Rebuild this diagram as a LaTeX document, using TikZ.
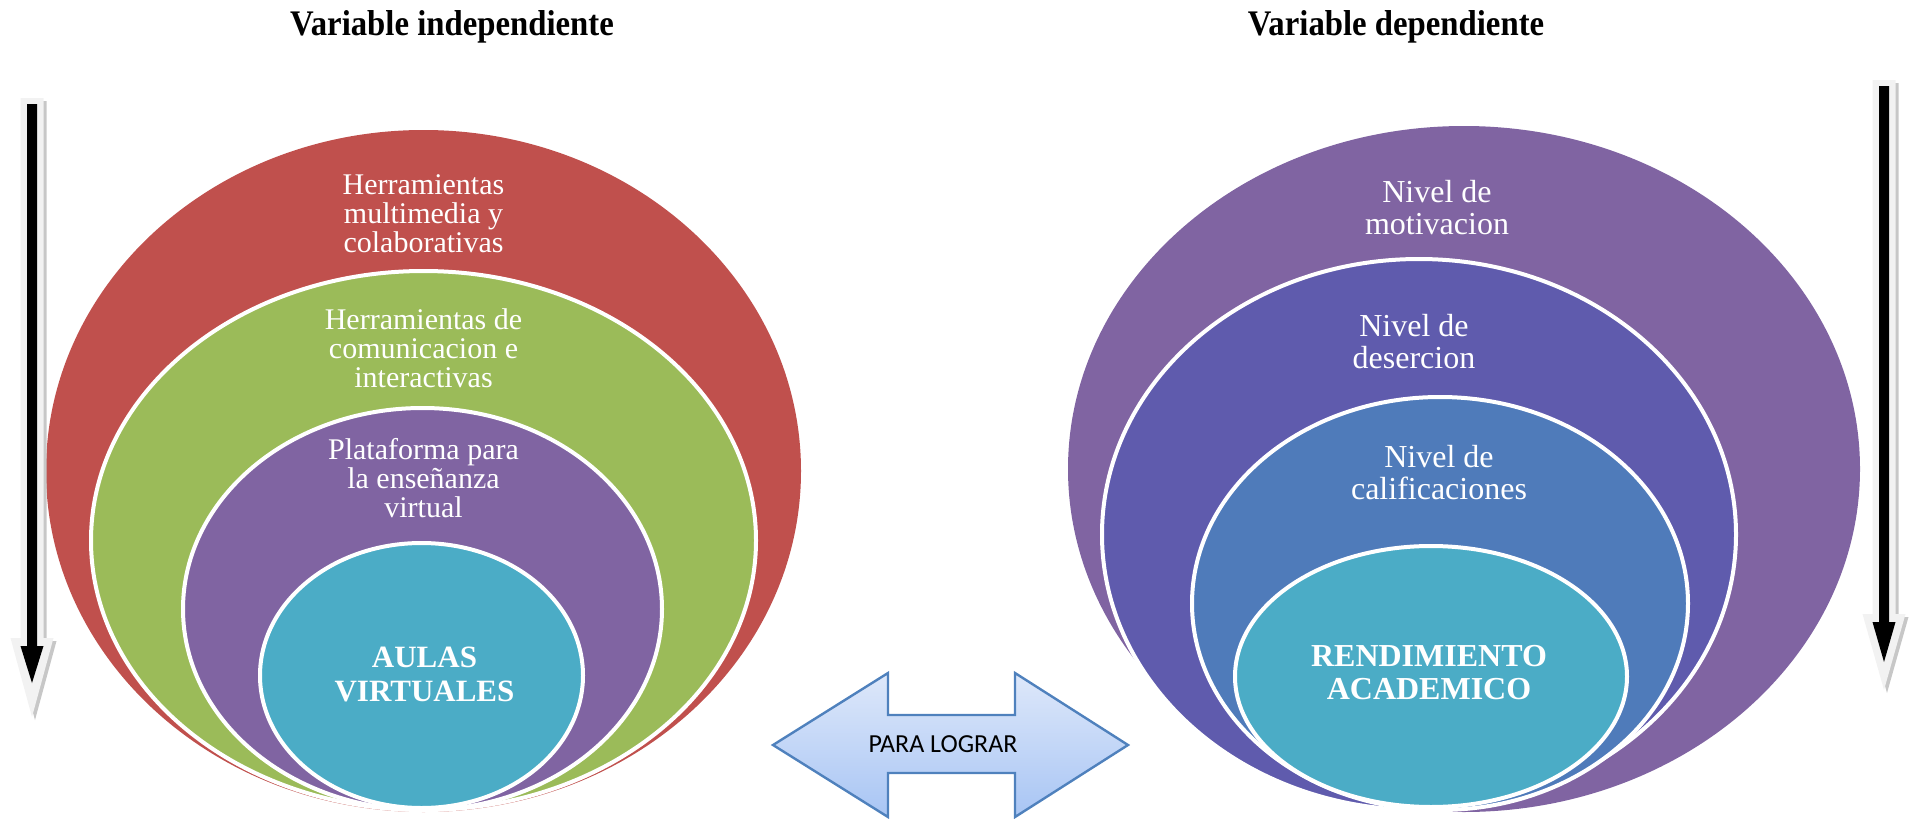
\documentclass[tikz,border=0pt]{standalone}
\usepackage{fontspec}
\setmainfont{Liberation Serif}
\newfontfamily\arrowfont{Carlito}
\usepackage{graphicx}
\usepackage{tikz}
\usetikzlibrary{shapes.geometric}
\definecolor{ringred}{HTML}{C0504D}
\definecolor{ringgreen}{HTML}{9BBB59}
\definecolor{ringpurple}{HTML}{8064A2}
\definecolor{ringcyan}{HTML}{4BACC6}
\definecolor{ringindigo}{HTML}{5F5BAD}
\definecolor{ringsteel}{HTML}{4F7BBA}
\definecolor{arrowtop}{HTML}{DEE8FA}
\definecolor{arrowbot}{HTML}{A8C5F4}
\definecolor{arrowedge}{HTML}{4F81BD}
\definecolor{railgray}{HTML}{F2F2F2}

\begin{document}
\begin{tikzpicture}[x=0.5pt,y=-0.5pt,
  ring/.style={ellipse,draw=white,line width=2pt,inner sep=0pt,outer sep=0pt},
  lbl/.style={text=white,align=center,inner sep=0pt,font=\fontsize{15}{14.5}\selectfont},
  rlbl/.style={text=white,align=center,inner sep=0pt,font=\fontsize{16}{16}\selectfont},
  core/.style={text=white,align=center,inner sep=0pt,font=\bfseries\fontsize{15.5}{17}\selectfont},
  heading/.style={anchor=base,inner sep=0pt,font=\bfseries\fontsize{18}{20}\selectfont}
]
\useasboundingbox (0,0) rectangle (1912,819);

% independent variable rings
\node[ring,draw=none,fill=ringred,minimum width=377.5pt,minimum height=341pt] (herr) at (423.5,471) {};
\node[ring,fill=ringgreen,minimum width=332.5pt,minimum height=269.5pt] (comu) at (423.5,540.5) {};
\node[ring,fill=ringpurple,minimum width=239.5pt,minimum height=201pt] (plat) at (422.5,609) {};
\node[ring,fill=ringcyan,minimum width=161.5pt,minimum height=132.5pt] (aulas) at (421.5,675.5) {};

% dependent variable rings
\node[ring,draw=none,fill=ringpurple,minimum width=396pt,minimum height=343pt] (motiv) at (1464,469) {};
\node[ring,fill=ringindigo,minimum width=317pt,minimum height=275.5pt] (deser) at (1419,534.5) {};
\node[ring,fill=ringsteel,minimum width=248pt,minimum height=206.5pt] (calif) at (1440,603.5) {};
\node[ring,fill=ringcyan,minimum width=196pt,minimum height=130.5pt] (rend) at (1431,676.5) {};

% labels
\node[lbl] (herrtxt) at (423.5,213.5) {Herramientas\\multimedia y\\colaborativas};
\node[lbl] (comutxt) at (423.5,348) {Herramientas de\\comunicacion e\\interactivas};
\node[lbl] (plattxt) at (423.5,478) {Plataforma para\\la enseñanza\\virtual};
\node[core] (aulastxt) at (424.5,674.5) {AULAS\\VIRTUALES};
\node[rlbl] (motivtxt) at (1437,208) {Nivel de\\motivacion};
\node[rlbl] (desertxt) at (1414,342) {Nivel de\\desercion};
\node[rlbl] (califtxt) at (1439,473) {Nivel de\\calificaciones};
\node[core,font=\bfseries\fontsize{16}{16.5}\selectfont] (rendtxt) at (1429,672.7) {RENDIMIENTO\\ACADEMICO};

\node[heading] (indep) at (452,35) {\scalebox{0.91}[1]{Variable independiente}};
\node[heading] (dep) at (1396,35) {\scalebox{0.91}[1]{Variable dependiente}};

% vertical reading arrows
\foreach \cx/\top/\head/\tip/\btop/\bhead/\btip in {32/98/638/717/104/646/683, 1884/80/614/690/86/622/662} {
  \fill[black!22] (\cx-8.5,\top+3) -- (\cx+14.5,\top+3) -- (\cx+14.5,\head+3) -- (\cx+24.5,\head+3)
    -- (\cx+3,\tip+3) -- (\cx-18.5,\head+3) -- (\cx-8.5,\head+3) -- cycle;
  \fill[railgray] (\cx-11.5,\top) -- (\cx+11.5,\top) -- (\cx+11.5,\head) -- (\cx+21.5,\head)
    -- (\cx,\tip) -- (\cx-21.5,\head) -- (\cx-11.5,\head) -- cycle;
  \fill[black] (\cx-5,\btop) -- (\cx+5,\btop) -- (\cx+5,\bhead) -- (\cx+11.5,\bhead)
    -- (\cx,\btip) -- (\cx-11.5,\bhead) -- (\cx-5,\bhead) -- cycle;
}

% double arrow
\shade[top color=arrowtop,bottom color=arrowbot,draw=arrowedge,line width=1.2pt,line join=miter]
  (773,745) -- (888,673) -- (888,715) -- (1015,715) -- (1015,673) -- (1128,745)
  -- (1015,817) -- (1015,773) -- (888,773) -- (888,817) -- cycle;
\node[inner sep=0pt,font=\arrowfont\fontsize{13}{15}\selectfont] (lograr) at (943,744.6) {PARA LOGRAR};
\end{tikzpicture}
\end{document}
